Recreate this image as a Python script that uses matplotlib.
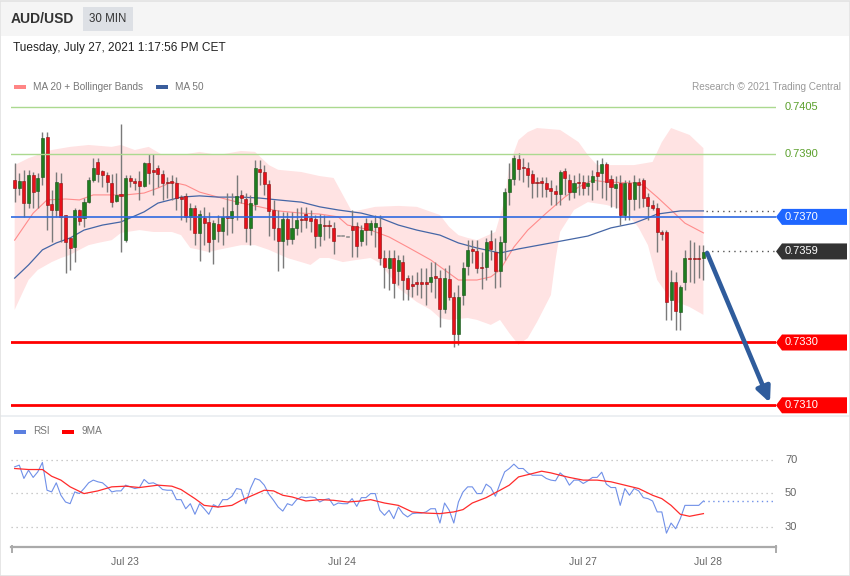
import numpy as np
import matplotlib.pyplot as plt
from matplotlib import transforms
from matplotlib.patches import Rectangle, Polygon
from matplotlib.lines import Line2D

plt.rcParams['font.family'] = ['Liberation Sans', 'DejaVu Sans']

# AUD/USD 30 min candles, oldest first
opens = [
    .73817, .73792, .73814, .73744, .73833, .73782, .73827, .73954, .73741, .73722,
    .73808, .73706, .73633, .73604, .73722, .73697, .73747, .73817, .73875, .73846,
    .73833, .73808, .73751, .73773, .73626, .73824, .73814, .73814, .73798, .73872,
    .73850, .73856, .73837, .73811, .73814, .73808, .73763, .73767, .73700, .73728,
    .73649, .73697, .73684, .73630, .73677, .73655, .73703, .73697, .73741, .73770,
    .73757, .73665, .73741, .73853, .73843, .73805, .73722, .73665, .73623, .73693,
    .73630, .73665, .73693, .73709, .73697, .73693, .73639, .73674, .73674, .73665,
    .73639, .73639, .73636, .73671, .73671, .73623, .73680, .73658, .73668, .73668,
    .73569, .73537, .73569, .73528, .73556, .73505, .73486, .73493, .73493, .73493,
    .73493, .73512, .73505, .73407, .73502, .73445, .73327, .73451, .73544, .73598,
    .73591, .73540, .73540, .73623, .73588, .73528, .73620, .73779, .73821, .73884,
    .73859, .73856, .73837, .73811, .73814, .73808, .73792, .73782, .73773, .73846,
    .73817, .73779, .73811, .73811, .73798, .73811, .73843, .73840, .73869, .73821,
    .73792, .73808, .73706, .73808, .73757, .73811, .73817, .73763, .73738, .73728,
    .73652, .73652, .73436, .73493, .73397, .73493, .73569, .73569, .73569, .73569,
]
highs = [
    .73872, .73840, .73850, .73850, .73843, .73840, .73970, .73970, .73786, .73843,
    .73840, .73706, .73636, .73728, .73725, .73760, .73827, .73887, .73887, .73850,
    .73843, .73837, .73840, .73996, .73833, .73833, .73824, .73846, .73875, .73900,
    .73900, .73865, .73850, .73827, .73833, .73827, .73770, .73776, .73744, .73738,
    .73722, .73732, .73716, .73690, .73706, .73732, .73776, .73776, .73833, .73786,
    .73776, .73770, .73881, .73881, .73865, .73817, .73754, .73722, .73716, .73716,
    .73716, .73728, .73732, .73732, .73722, .73706, .73709, .73706, .73690, .73684,
    .73639, .73639, .73636, .73722, .73684, .73674, .73697, .73690, .73706, .73706,
    .73595, .73595, .73595, .73579, .73579, .73515, .73515, .73525, .73537, .73537,
    .73556, .73556, .73531, .73537, .73547, .73461, .73483, .73556, .73626, .73626,
    .73626, .73588, .73633, .73658, .73633, .73639, .73792, .73872, .73897, .73904,
    .73887, .73875, .73850, .73827, .73827, .73827, .73817, .73801, .73850, .73856,
    .73837, .73833, .73840, .73833, .73833, .73850, .73881, .73887, .73875, .73833,
    .73830, .73833, .73817, .73817, .73833, .73824, .73824, .73776, .73754, .73744,
    .73658, .73658, .73531, .73525, .73483, .73595, .73626, .73620, .73610, .73610,
]
lows = [
    .73747, .73770, .73700, .73728, .73728, .73728, .73801, .73658, .73620, .73700,
    .73620, .73521, .73531, .73556, .73674, .73668, .73744, .73811, .73811, .73795,
    .73779, .73732, .73747, .73588, .73620, .73795, .73786, .73754, .73795, .73805,
    .73770, .73795, .73754, .73760, .73754, .73722, .73690, .73684, .73658, .73610,
    .73560, .73610, .73588, .73550, .73620, .73610, .73642, .73649, .73690, .73744,
    .73620, .73610, .73722, .73801, .73770, .73639, .73626, .73528, .73537, .73610,
    .73614, .73642, .73652, .73665, .73652, .73601, .73607, .73626, .73633, .73582,
    .73639, .73639, .73636, .73572, .73572, .73607, .73610, .73642, .73604, .73547,
    .73473, .73467, .73442, .73483, .73436, .73436, .73445, .73451, .73442, .73420,
    .73461, .73442, .73350, .73394, .73436, .73287, .73293, .73420, .73515, .73553,
    .73521, .73470, .73499, .73563, .73473, .73477, .73563, .73738, .73801, .73817,
    .73811, .73795, .73760, .73763, .73763, .73763, .73738, .73738, .73738, .73770,
    .73754, .73760, .73770, .73770, .73770, .73754, .73786, .73760, .73754, .73732,
    .73728, .73674, .73690, .73690, .73722, .73728, .73732, .73690, .73722, .73588,
    .73626, .73372, .73372, .73340, .73340, .73467, .73493, .73489, .73505, .73499,
]
closes = [
    .73792, .73814, .73744, .73833, .73779, .73824, .73951, .73738, .73722, .73811,
    .73700, .73620, .73601, .73722, .73687, .73747, .73817, .73856, .73837, .73833,
    .73811, .73747, .73770, .73767, .73824, .73814, .73808, .73798, .73872, .73840,
    .73843, .73837, .73808, .73808, .73808, .73760, .73757, .73700, .73728, .73649,
    .73709, .73680, .73620, .73680, .73655, .73700, .73697, .73719, .73767, .73760,
    .73665, .73744, .73856, .73843, .73805, .73719, .73665, .73623, .73693, .73630,
    .73665, .73690, .73690, .73690, .73687, .73639, .73677, .73671, .73671, .73623,
    .73639, .73639, .73636, .73658, .73607, .73658, .73658, .73680, .73680, .73569,
    .73540, .73569, .73489, .73563, .73499, .73470, .73480, .73486, .73486, .73486,
    .73509, .73505, .73407, .73505, .73445, .73327, .73445, .73537, .73595, .73591,
    .73537, .73537, .73620, .73598, .73528, .73620, .73779, .73821, .73887, .73853,
    .73856, .73833, .73808, .73808, .73808, .73789, .73782, .73773, .73843, .73824,
    .73779, .73808, .73808, .73792, .73808, .73830, .73830, .73869, .73811, .73795,
    .73805, .73706, .73808, .73757, .73811, .73801, .73760, .73735, .73728, .73652,
    .73645, .73429, .73493, .73401, .73477, .73569, .73566, .73566, .73566, .73588,
]

# Bollinger bands (MA 20), read at candle positions
bb_up_idx = [0, 3, 8, 12, 16, 21, 23, 26, 29, 32, 36, 40, 44, 49, 52, 55, 57, 62, 66, 69,
             71, 73, 78, 83, 87, 92, 94, 96, 98, 100, 104, 106, 107, 109, 111, 113, 118,
             122, 124, 126, 130, 134, 138, 140, 142, 146, 149]
bb_up = [.73865, .73887, .73913, .73923, .73929, .73923, .73929, .73913, .73923, .73897,
         .73897, .73907, .73897, .73910, .73907, .73865, .73850, .73843, .73830, .73824,
         .73770, .73716, .73732, .73735, .73732, .73706, .73668, .73642, .73633, .73626,
         .73652, .73754, .73865, .73945, .73970, .73983, .73977, .73938, .73897, .73865,
         .73865, .73865, .73875, .73938, .73983, .73961, .73919]
bb_lo_idx = [0, 1, 3, 5, 8, 10, 12, 14, 16, 18, 21, 23, 27, 30, 34, 36, 38, 40, 42, 44,
             49, 52, 55, 59, 62, 64, 66, 68, 71, 74, 77, 79, 81, 83, 85, 87, 90, 92, 94,
             98, 100, 103, 105, 107, 109, 111, 113, 116, 117, 118, 121, 124, 128, 132,
             135, 137, 139, 142, 146, 149]
bb_lo = [.73404, .73436, .73499, .73531, .73556, .73569, .73579, .73595, .73610, .73617,
         .73626, .73649, .73658, .73652, .73652, .73642, .73601, .73595, .73588, .73595,
         .73610, .73610, .73595, .73569, .73556, .73547, .73569, .73569, .73556, .73563,
         .73569, .73553, .73515, .73473, .73451, .73429, .73404, .73378, .73372, .73378,
         .73372, .73356, .73372, .73330, .73293, .73314, .73365, .73451, .73563, .73652,
         .73722, .73747, .73738, .73722, .73665, .73610, .73499, .73436, .73413, .73388]
ma20_idx = [0, 4, 7, 11, 14, 17, 24, 28, 31, 34, 37, 40, 44, 49, 53, 57, 62, 66, 70, 72,
            77, 81, 85, 90, 93, 96, 100, 103, 105, 108, 111, 115, 119, 122, 125, 128, 134,
            136, 139, 142, 145, 149]
ma20 = [.73626, .73712, .73754, .73757, .73754, .73770, .73770, .73776, .73792, .73811,
        .73801, .73779, .73763, .73744, .73732, .73719, .73712, .73709, .73700, .73674,
        .73658, .73636, .73604, .73563, .73531, .73499, .73499, .73509, .73531, .73604,
        .73658, .73712, .73763, .73795, .73817, .73811, .73808, .73801, .73763, .73722,
        .73680, .73649]
ma50_idx = [0, 3, 6, 9, 12, 15, 19, 23, 28, 31, 36, 40, 44, 49, 53, 57, 62, 66, 70, 75,
            79, 83, 87, 92, 96, 100, 105, 109, 116, 124, 129, 134, 137, 139, 144, 149]
ma50 = [.73505, .73547, .73595, .73617, .73633, .73658, .73674, .73684, .73716, .73744,
        .73763, .73767, .73763, .73763, .73760, .73754, .73747, .73732, .73722, .73712,
        .73697, .73674, .73658, .73642, .73617, .73601, .73585, .73598, .73617, .73639,
        .73665, .73680, .73697, .73709, .73719, .73719]

rsi = [65.7, 66.7, 58.8, 63.7, 59.4, 62.7, 68.3, 51.8, 50.8, 56.2,
       48.8, 44.8, 43.8, 50.8, 49.8, 52.8, 56.2, 57.8, 56.8, 56.2,
       53.8, 50.8, 51.4, 51.4, 54.8, 53.8, 52.8, 53.4, 58.2, 55.8,
       56.2, 54.8, 52.2, 51.8, 51.8, 46.2, 46.2, 40.8, 43.8, 37.5,
       43.8, 40.8, 37.5, 43.2, 41.8, 46.2, 46.2, 48.2, 52.8, 52.2,
       43.8, 52.8, 58.8, 57.8, 54.8, 49.4, 45.8, 41.8, 39.4, 43.8,
       42.8, 46.2, 47.8, 47.4, 47.8, 47.4, 44.8, 46.2, 46.8, 42.8,
       44.2, 43.8, 43.8, 46.8, 42.2, 47.4, 47.4, 49.8, 49.8, 39.9,
       36.9, 39.9, 34.9, 41.8, 37.9, 35.9, 37.9, 38.2, 38.2, 38.9,
       40.8, 40.8, 32.3, 44.2, 39.9, 32.3, 44.8, 50.8, 53.8, 53.8,
       49.8, 49.8, 55.4, 53.4, 48.2, 55.8, 62.7, 64.7, 67.3, 64.7,
       64.7, 62.1, 60.7, 60.7, 60.7, 58.8, 57.8, 57.4, 62.1, 59.7,
       54.8, 57.8, 57.8, 55.8, 57.4, 59.4, 59.4, 62.5, 55.4, 53.4,
       53.4, 42.8, 52.8, 48.8, 52.8, 51.4, 47.4, 46.8, 45.4, 38.9,
       38.9, 26.3, 32.3, 28.9, 34.9, 42.8, 42.8, 42.8, 42.8, 45.4]
rsi_ma_idx = [0, 3, 6, 8, 10, 12, 15, 18, 21, 24, 27, 31, 34, 36, 39, 41, 44, 47, 49, 52,
              54, 56, 58, 60, 63, 66, 69, 72, 75, 77, 80, 83, 86, 89, 92, 95, 97, 99, 102,
              105, 107, 109, 112, 114, 116, 118, 120, 123, 126, 129, 132, 135, 138, 140,
              142, 144, 146, 149]
rsi_ma = [64.7, 64.1, 64.1, 60.1, 57.8, 53.8, 49.8, 51.4, 53.8, 54.2, 53.4, 54.8, 54.2,
          52.2, 46.8, 42.8, 41.8, 42.8, 45.8, 49.4, 51.8, 51.4, 48.8, 47.8, 45.4, 46.2,
          45.8, 44.8, 45.4, 46.2, 44.2, 42.8, 38.9, 38.2, 37.9, 38.9, 40.3, 44.2, 47.4,
          51.8, 54.8, 59.7, 61.7, 63.1, 62.1, 60.7, 59.4, 57.8, 57.8, 56.8, 54.8, 52.8,
          48.8, 46.8, 42.8, 37.5, 36.3, 37.9]

day_labels = ['Jul 23', 'Jul 24', 'Jul 27', 'Jul 28']
day_pos = [23.8, 70.7, 122.9, 149.9]

resistances = [0.7405, 0.7390]
pivot = 0.7370
supports = [0.7330, 0.7310]
last_price = 0.7359
target = 0.7310

W, H = 850, 576
fig = plt.figure(figsize=(W / 100, H / 100), dpi=100)


def fx(px):
    return px / W


def fy(py):
    return 1 - py / H


def frect(x0, y0, x1, y1, **kw):
    fig.patches.append(Rectangle((fx(x0), fy(y1)), (x1 - x0) / W, (y1 - y0) / H,
                                 transform=fig.transFigure, **kw))


# frame, header, separators
frect(1, 1, 849, 36, facecolor='#f5f5f5', edgecolor='none')
frect(83, 7, 133, 31, facecolor='#dde0e5', edgecolor='none')
frect(0, 415, 850, 417, facecolor='#eceff2', edgecolor='none')
fig.patches.append(Rectangle((0.0005, 0.0008), 0.999, 0.998, transform=fig.transFigure,
                             fill=False, edgecolor='#e2e2e2', lw=1.2))
fig.text(fx(11), fy(19), 'AUD/USD', fontsize=10, fontweight='bold', color='#333333', va='center')
fig.text(fx(108), fy(19), '30 MIN', fontsize=8.3, color='#333333', ha='center', va='center')
fig.text(fx(13), fy(48.5), 'Tuesday, July 27, 2021 1:17:56 PM CET', fontsize=8.6,
         color='#222222', va='center')

# legends
frect(14, 85, 26, 88.5, facecolor='#ff8585', edgecolor='none')
fig.text(fx(33), fy(86.5), 'MA 20 + Bollinger Bands', fontsize=7.2, color='#777777', va='center')
frect(156, 85, 168, 88.5, facecolor='#3a5d9c', edgecolor='none')
fig.text(fx(175), fy(86.5), 'MA 50', fontsize=7.2, color='#777777', va='center')
fig.text(fx(841), fy(86.5), 'Research \u00a9 2021 Trading Central', fontsize=7.2,
         color='#999999', va='center', ha='right')
frect(14, 430, 26, 433.5, facecolor='#5b7fe0', edgecolor='none')
fig.text(fx(33), fy(431.5), 'RSI', fontsize=7.2, color='#777777', va='center')
frect(62, 430, 74, 433.5, facecolor='#ff0000', edgecolor='none')
fig.text(fx(82), fy(431.5), '9MA', fontsize=7.2, color='#777777', va='center')

# price panel
x_lo, x_hi = -0.794, 164.7
ax = fig.add_axes([fx(11), fy(410), 765 / W, 315 / H])
ax.set_xlim(x_lo, x_hi)
ax.set_ylim(0.730850, 0.740882)
ax.axis('off')

xs = np.arange(len(closes))
ax.fill(np.r_[bb_up_idx, bb_lo_idx[::-1]], np.r_[bb_up, bb_lo[::-1]],
        color='#ffe3e3', lw=0, zorder=1)
ax.plot(ma20_idx, ma20, color='#ff8c8c', lw=0.8, zorder=2)
ax.plot(ma50_idx, ma50, color='#4566a6', lw=0.9, zorder=2)

o = np.array(opens)
c = np.array(closes)
hi = np.array(highs)
lo = np.array(lows)
flat = hi == lo
up = (c >= o) & ~flat
body_col = np.where(flat, '#8a8a8a', np.where(up, '#1f7d1f', '#e8101a'))
edge_col = np.where(flat, '#8a8a8a', np.where(up, '#174f17', '#8a1010'))
ax.vlines(xs[~flat], lo[~flat], hi[~flat], color='#7a7a7a', lw=1.0, zorder=3)
ax.bar(xs, np.maximum(np.abs(c - o), 0.00003), bottom=np.minimum(o, c), width=0.66,
       color=body_col, edgecolor=edge_col, linewidth=0.4, zorder=4)

for lvl in resistances:
    ax.axhline(lvl, color='#abd98f', lw=1.0, zorder=5)
ax.axhline(pivot, color='#2f6ae0', lw=1.2, zorder=5)
for lvl in supports:
    ax.axhline(lvl, color='#ff0000', lw=2.0, zorder=5)

ax.plot([xs[-1] + 0.6, x_hi], [ma50[-1], ma50[-1]], color='#555555', lw=1.0,
        linestyle=(0, (1, 3)), zorder=5)
ax.plot([xs[-1] + 0.6, x_hi], [last_price, last_price], color='#555555', lw=1.0,
        linestyle=(0, (1, 3)), zorder=5)

ax.annotate('', xy=(163.4, target + 0.00008), xytext=(xs[-1] + 0.8, last_price - 0.00005),
            arrowprops=dict(arrowstyle='-|>,head_length=0.9,head_width=0.42', lw=3.3,
                            color='#2f5c9c', shrinkA=0, shrinkB=0), zorder=6)

# right-hand price tags
tr = transforms.blended_transform_factory(ax.transAxes, ax.transData)
half = 8 * (0.740882 - 0.730850) / 315
x_txt = (785 - 11) / 765
for lvl in resistances:
    ax.text(x_txt, lvl, f'{lvl:.4f}', transform=tr, color='#5ba02c', fontsize=8,
            va='center', clip_on=False)
for lvl, col in [(pivot, '#1f66ff'), (last_price, '#333333'),
                 (supports[0], '#ff0000'), (supports[1], '#ff0000')]:
    x0, x1, xr = 1.0, (782 - 11) / 765, (847 - 11) / 765
    poly = Polygon([(x0, lvl), (x1, lvl + half), (xr, lvl + half), (xr, lvl - half),
                    (x1, lvl - half)], closed=True, transform=tr, facecolor=col,
                   edgecolor='none', clip_on=False, zorder=6)
    ax.add_patch(poly)
    ax.text(x_txt, lvl, f'{lvl:.4f}', transform=tr, color='white', fontsize=8,
            va='center', clip_on=False, zorder=7)

# RSI panel
ax2 = fig.add_axes([fx(11), fy(547), 765 / W, 107 / H])
ax2.set_xlim(x_lo, x_hi)
ax2.set_ylim(18.06, 81.64)
for s in ['top', 'left', 'right']:
    ax2.spines[s].set_visible(False)
ax2.spines['bottom'].set_color('#aaaaaa')
ax2.spines['bottom'].set_linewidth(1.6)
ax2.set_yticks([])
ax2.set_xticks(day_pos)
ax2.set_xticklabels(day_labels)
ax2.tick_params(axis='x', length=0, pad=7, labelsize=7.5, labelcolor='#666666')
for v in [70, 50, 30]:
    ax2.axhline(v, color='#bbbbbb', lw=0.9, linestyle=(0, (1, 3)))
tr2 = transforms.blended_transform_factory(ax2.transAxes, ax2.transData)
for v in [70, 50, 30]:
    ax2.text(x_txt, v, str(v), transform=tr2, color='#666666', fontsize=8,
             va='center', clip_on=False)
ax2.plot(xs, rsi, color='#7090e8', lw=0.8, zorder=3)
ax2.plot([xs[-1], x_hi], [rsi[-1], rsi[-1]], color='#7090e8', lw=1.0,
         linestyle=(0, (1, 2.5)), zorder=3)
ax2.plot(rsi_ma_idx, rsi_ma, color='#ff2b2b', lw=0.9, zorder=4)
for px in [11.5, 775.5]:
    fig.lines.append(Line2D([fx(px), fx(px)], [fy(546), fy(552)], color='#aaaaaa',
                            lw=1.4, transform=fig.transFigure))

fig.savefig('out.png', dpi=100)
